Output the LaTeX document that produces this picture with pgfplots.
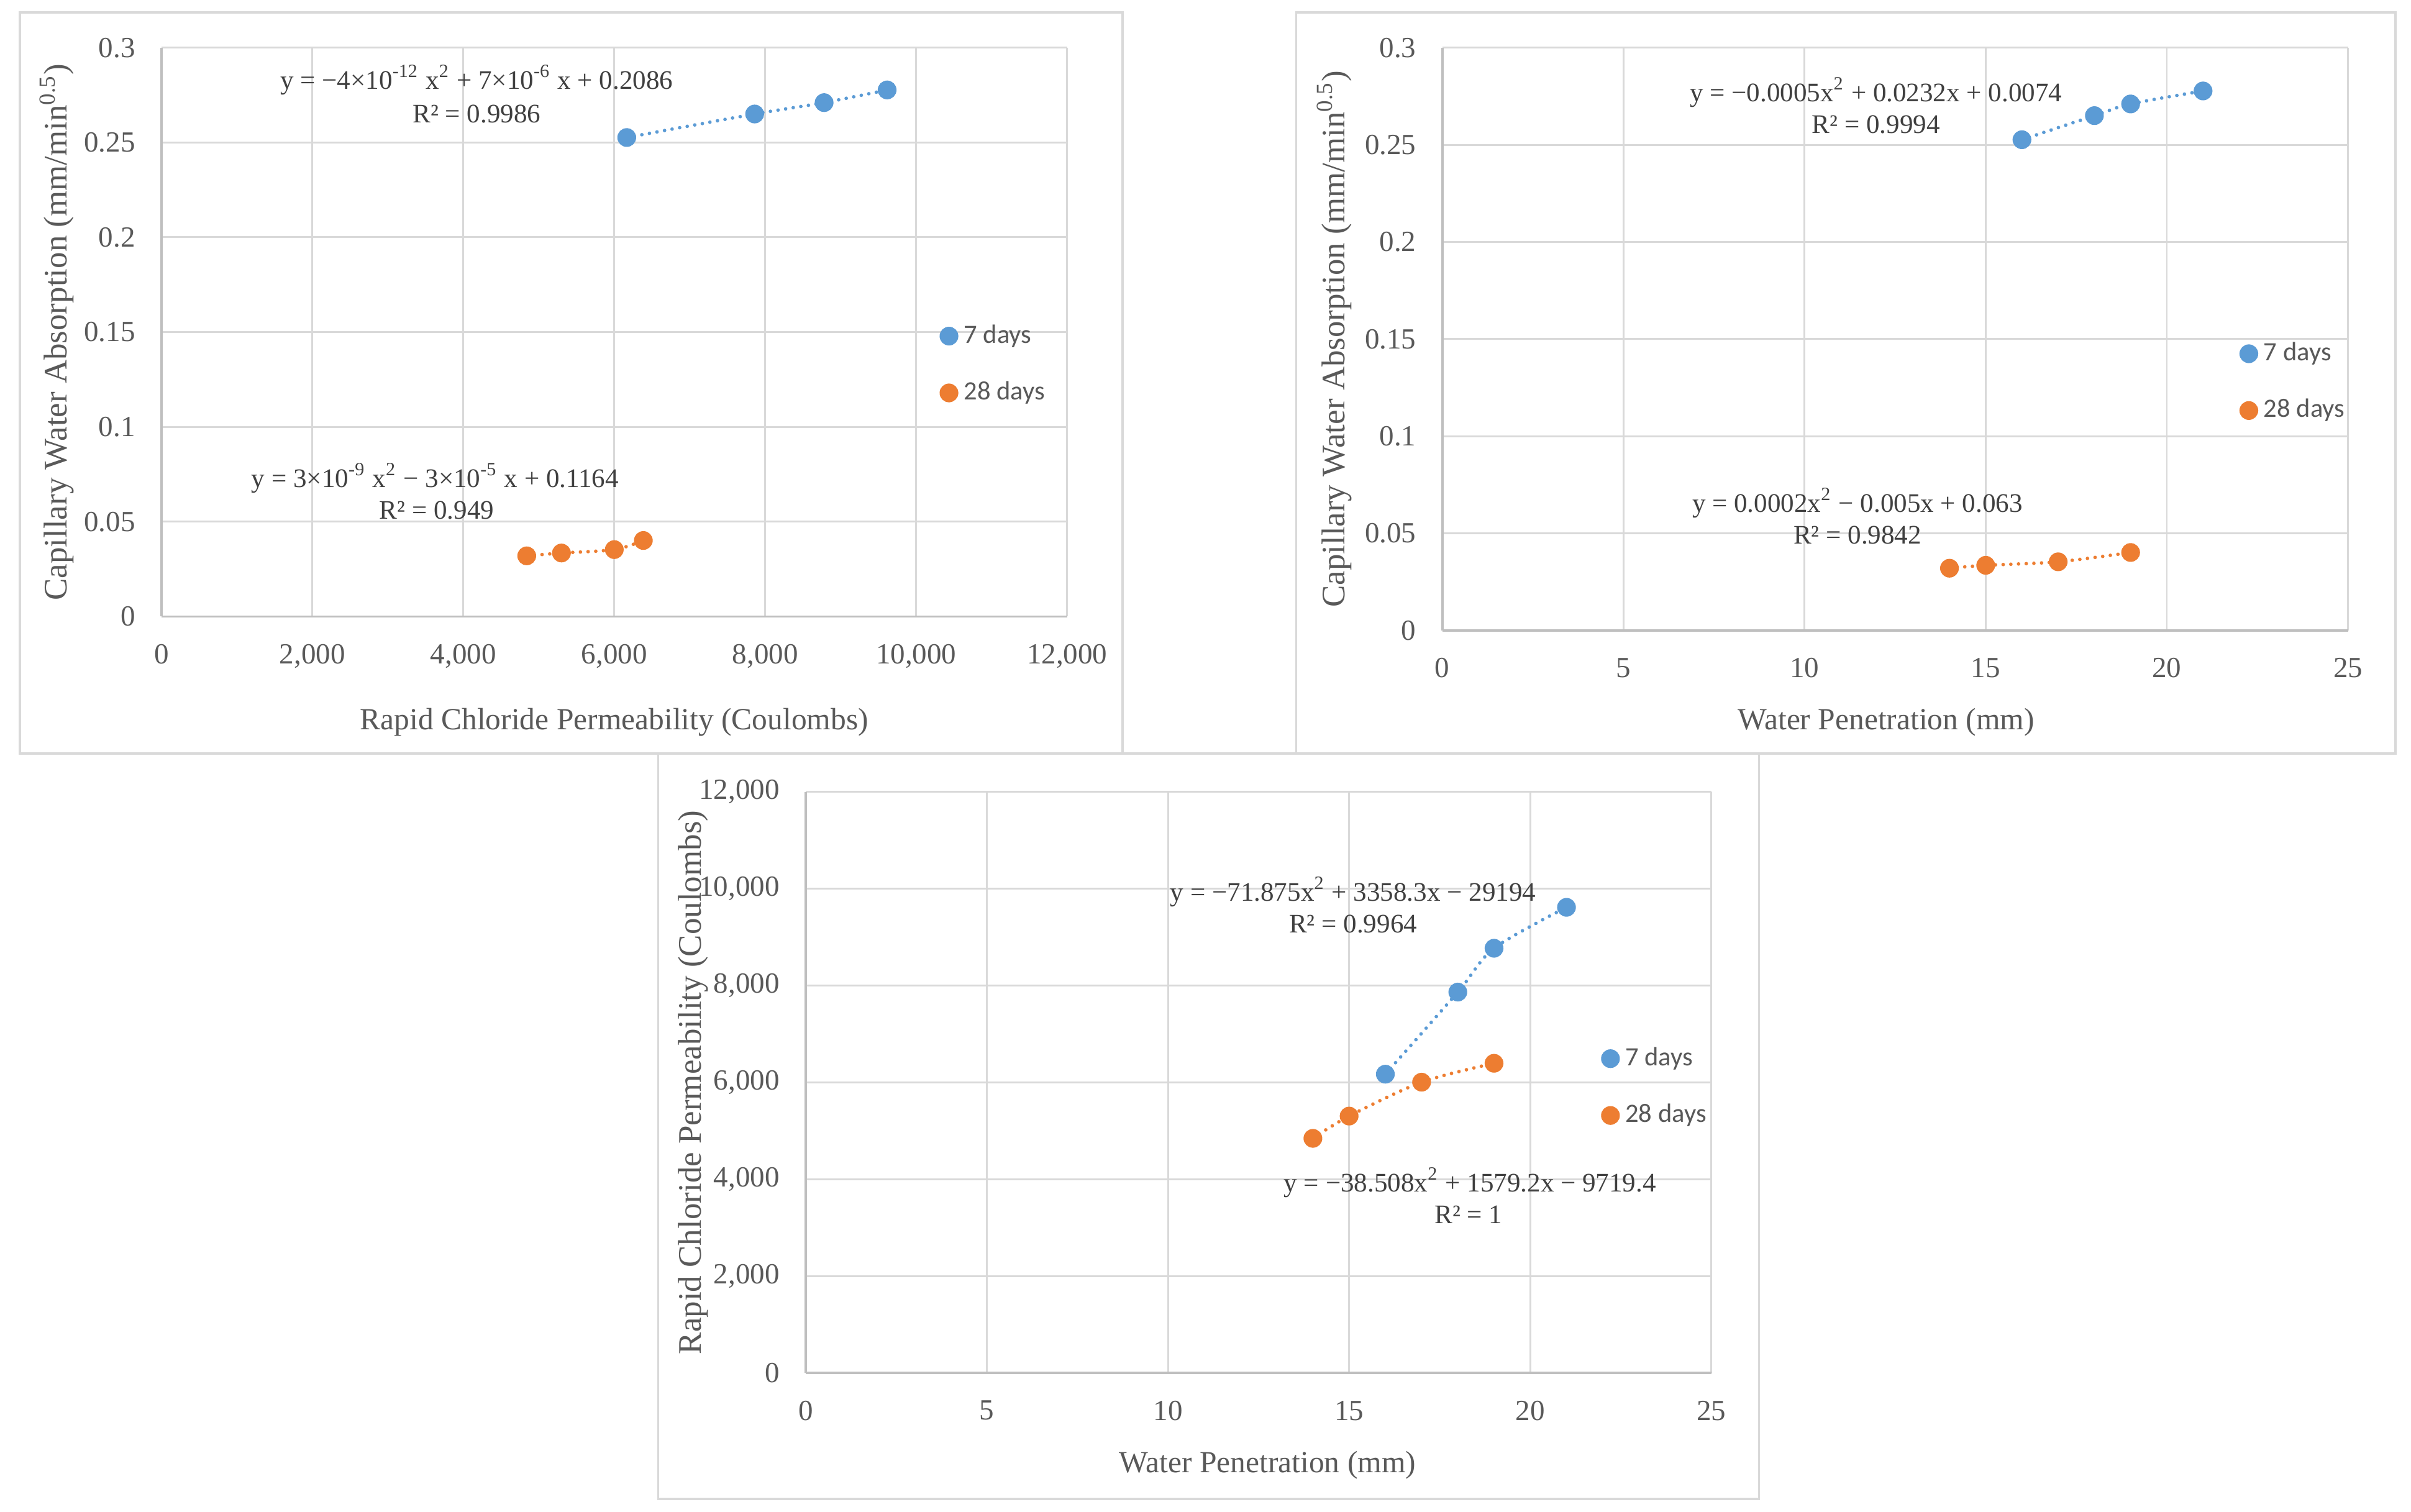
\documentclass[border=0pt]{standalone}
\usepackage{fontspec}
\usepackage{pgfplots}
\pgfplotsset{compat=1.18}
\setmainfont{Liberation Serif}
\newfontfamily\calibri{Carlito}

\definecolor{c7}{HTML}{5B9BD5}
\definecolor{c28}{HTML}{ED7D31}
\definecolor{gridcol}{HTML}{D9D9D9}
\definecolor{axcol}{HTML}{BFBFBF}
\definecolor{framecol}{HTML}{D9D9D9}
\definecolor{txt}{HTML}{595959}
\definecolor{eqtxt}{HTML}{404040}

\pgfplotsset{
  panel/.style={
    scale only axis, width=294.5pt, anchor=south west,
    scaled ticks=false,
    /pgf/number format/.cd, assume math mode=true, fixed, precision=2, 1000 sep={,},
    /pgfplots/.cd,
    axis lines=left, axis line style={draw=axcol, line width=0.75pt, -},
    grid=major, major grid style={draw=gridcol, line width=0.6pt},
    major tick length=0pt,
    tick label style={font=\fontsize{9.5}{11}\selectfont, text=txt},
    xticklabel shift=5.5pt, yticklabel shift=5pt,
    x label style={font=\fontsize{10}{12}\selectfont, text=txt, anchor=center},
    y label style={font=\fontsize{10.7}{12}\selectfont, text=txt, anchor=center},
    clip=false,
    legend style={draw=none, fill=none, anchor=west, row sep=7pt,
      font=\calibri\fontsize{8.6}{10}\selectfont, text=txt},
    legend cell align=left,
  },
  dots/.style={only marks, mark=*, mark size=2.85pt, draw=#1, fill=#1,
    legend image code/.code={\draw[##1] plot coordinates {(0cm,0cm)};}},
  trend/.style={draw=#1, line width=1.15pt, dash pattern=on 0pt off 2.5pt,
    line cap=round, smooth, forget plot},
}

\tikzset{eq/.style={font=\fontsize{8.7}{10}\selectfont, text=eqtxt, anchor=center, inner sep=0pt}}

\begin{document}
\begin{tikzpicture}[x=0.5pt, y=0.5pt]
  \fill[white] (0,0) rectangle (1568,983);
  \draw[framecol, line width=0.75pt] (13,493) rectangle (730,975);
  \draw[framecol, line width=0.75pt] (843,493) rectangle (1558,975);
  \draw[framecol, line width=0.75pt] (428,8) rectangle (1144,493);

  % top left: capillary water absorption vs rapid chloride permeability
  \begin{axis}[panel, at={(52.5pt,291pt)}, height=185pt,
      xmin=0, xmax=12000, ymin=0, ymax=0.3,
      xtick={0,2000,4000,6000,8000,10000,12000},
      ytick={0,0.05,0.1,0.15,0.2,0.25,0.3},
      xlabel={Rapid Chloride Permeability (Coulombs)},
      ylabel={Capillary Water Absorption (mm/min\textsuperscript{0.5})},
      x label style={at={(axis description cs:0.5,-0.186)}},
      y label style={at={(axis description cs:-0.1155,0.5)}},
      legend style={at={(axis description cs:0.849,0.443)}}]
    \addplot[trend=c7] coordinates {(6165,0.2526) (7860,0.265) (8780,0.271) (9615,0.2777)};
    \addplot[c7, dots=c7] coordinates {(6165,0.2526) (7860,0.265) (8780,0.271) (9615,0.2777)};
    \addplot[trend=c28] coordinates {(4840,0.032) (5300,0.0335) (6000,0.0353) (6385,0.0401)};
    \addplot[c28, dots=c28] coordinates {(4840,0.032) (5300,0.0335) (6000,0.0353) (6385,0.0401)};
    \legend{7 days, 28 days}
  \end{axis}

  % top right: capillary water absorption vs water penetration
  \begin{axis}[panel, at={(469pt,286.5pt)}, height=189.5pt,
      xmin=0, xmax=25, ymin=0, ymax=0.3,
      xtick={0,5,10,15,20,25},
      ytick={0,0.05,0.1,0.15,0.2,0.25,0.3},
      xlabel={Water Penetration (mm)},
      ylabel={Capillary Water Absorption (mm/min\textsuperscript{0.5})},
      x label style={at={(axis description cs:0.49,-0.158)}},
      y label style={at={(axis description cs:-0.119,0.5)}},
      legend style={at={(axis description cs:0.87,0.426)}}]
    \addplot[trend=c7] coordinates {(16,0.2526) (18,0.265) (19,0.271) (21,0.2777)};
    \addplot[c7, dots=c7] coordinates {(16,0.2526) (18,0.265) (19,0.271) (21,0.2777)};
    \addplot[trend=c28] coordinates {(14,0.032) (15,0.0335) (17,0.0353) (19,0.0401)};
    \addplot[c28, dots=c28] coordinates {(14,0.032) (15,0.0335) (17,0.0353) (19,0.0401)};
    \legend{7 days, 28 days}
  \end{axis}

  % bottom: rapid chloride permeability vs water penetration
  \begin{axis}[panel, at={(262pt,45pt)}, height=189pt,
      xmin=0, xmax=25, ymin=0, ymax=12000,
      xtick={0,5,10,15,20,25},
      ytick={0,2000,4000,6000,8000,10000,12000},
      xlabel={Water Penetration (mm)},
      ylabel={Rapid Chloride Permeability (Coulombs)},
      x label style={at={(axis description cs:0.51,-0.159)}},
      y label style={at={(axis description cs:-0.124,0.5)}},
      legend style={at={(axis description cs:0.868,0.492)}}]
    \addplot[trend=c7] coordinates {(16,6170) (18,7865) (19,8770) (21,9615)};
    \addplot[c7, dots=c7] coordinates {(16,6170) (18,7865) (19,8770) (21,9615)};
    \addplot[trend=c28] coordinates {(14,4845) (15,5305) (17,6005) (19,6395)};
    \addplot[c28, dots=c28] coordinates {(14,4845) (15,5305) (17,6005) (19,6395)};
    \legend{7 days, 28 days}
  \end{axis}

  % trendline equations
  \node[eq] at (310,931) {y = −4×10\textsuperscript{-12} x\textsuperscript{2} + 7×10\textsuperscript{-6} x + 0.2086};
  \node[eq] at (310,909) {R² = 0.9986};
  \node[eq] at (283,672) {y = 3×10\textsuperscript{-9} x\textsuperscript{2} − 3×10\textsuperscript{-5} x + 0.1164};
  \node[eq] at (284,651) {R² = 0.949};
  \node[eq] at (1220,923) {y = −0.0005x\textsuperscript{2} + 0.0232x + 0.0074};
  \node[eq] at (1220,902) {R² = 0.9994};
  \node[eq] at (1208,656) {y = 0.0002x\textsuperscript{2} − 0.005x + 0.063};
  \node[eq] at (1208,635) {R² = 0.9842};
  \node[eq] at (880,403) {y = −71.875x\textsuperscript{2} + 3358.3x − 29194};
  \node[eq] at (880,382) {R² = 0.9964};
  \node[eq] at (956,214) {y = −38.508x\textsuperscript{2} + 1579.2x − 9719.4};
  \node[eq] at (955,193) {R² = 1};
\end{tikzpicture}
\end{document}
